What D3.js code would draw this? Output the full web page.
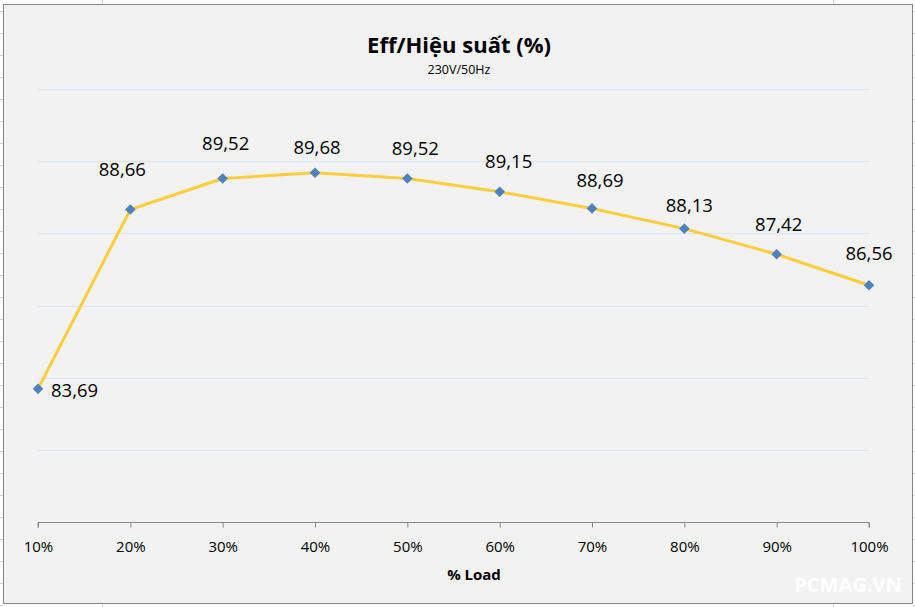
<!DOCTYPE html>
<html><head><meta charset="utf-8">
<script src="https://cdn.jsdelivr.net/npm/d3@7"></script>
<style>body{margin:0;background:#fff}svg{display:block}</style>
</head><body>
<svg id="c" width="915" height="607"></svg>
<script>
const categories = ["10%","20%","30%","40%","50%","60%","70%","80%","90%","100%"];
const values = [83.69,88.66,89.52,89.68,89.52,89.15,88.69,88.13,87.42,86.56];
const yTicks = [80,82,84,86,88,90,92];
const title = "Eff/Hiệu suất (%)";
const subtitle = "230V/50Hz";
const xTitle = "% Load";

// data label nudges (layout, in px relative to each point)
const labelDx = [13,-8,3,2,8,9,8,5,2,0];
const labelDy = [8,-34,-28,-19,-23,-24,-21,-17,-23,-25];

const svg = d3.select("#c");
const font = "'Open Sans', 'Noto Sans', sans-serif";

// spreadsheet background marks
const sheet = svg.append("g").attr("stroke","#d4d4d4").attr("stroke-width",1);
for (let y=11; y<607; y+=22) {
  sheet.append("line").attr("x1",0).attr("x2",3).attr("y1",y+0.5).attr("y2",y+0.5);
  sheet.append("line").attr("x1",913).attr("x2",915).attr("y1",y+0.5).attr("y2",y+0.5);
}
[102.5,833.5].forEach(x=>{
  sheet.append("line").attr("x1",x).attr("x2",x).attr("y1",0).attr("y2",4);
  sheet.append("line").attr("x1",x).attr("x2",x).attr("y1",604).attr("y2",607);
});

svg.append("rect").attr("x",3.5).attr("y",4.5).attr("width",909).attr("height",599)
  .attr("fill","#f2f2f2").attr("stroke","#868686").attr("stroke-width",1);

const x = d3.scalePoint().domain(categories).range([38,869]);
const y = d3.scaleLinear().domain([80,92]).range([522,89]);

// gridlines
svg.append("g").selectAll("line").data(yTicks.filter(t=>t>80)).join("line")
  .attr("x1",38).attr("x2",870)
  .attr("y1",d=>Math.round(y(d))+0.5).attr("y2",d=>Math.round(y(d))+0.5)
  .attr("stroke","#dde3ea").attr("stroke-width",1);

// x axis
const xa = svg.append("g").attr("transform",`translate(0,${Math.round(y(80))+0.5})`)
  .call(d3.axisBottom(x).tickSize(5).tickPadding(14));
xa.select(".domain").attr("stroke","#868686").attr("d",`M38,5V0H869V5`);
xa.selectAll(".tick line").attr("stroke","#868686");
xa.selectAll(".tick text").attr("font-family",font).attr("font-size",15).attr("fill","#000");

// line
svg.append("path").datum(values)
  .attr("d", d3.line().x((d,i)=>x(categories[i])).y(d=>y(d)))
  .attr("fill","none").attr("stroke","#fccd3c").attr("stroke-width",3).attr("stroke-linejoin","round");

// markers
svg.append("g").selectAll("path").data(values).join("path")
  .attr("d", d3.symbol().type(d3.symbolDiamond2).size(72))
  .attr("transform",(d,i)=>`translate(${x(categories[i])},${y(d)})`)
  .attr("fill","#4f81bd");

// labels
const fmt = v => v.toFixed(2).replace(".",",");
svg.append("g").selectAll("text").data(values).join("text")
  .attr("x",(d,i)=> x(categories[i]) + labelDx[i])
  .attr("y",(d,i)=> y(d) + labelDy[i])
  .attr("text-anchor",(d,i)=> i===0 ? "start":"middle")
  .attr("font-family",font).attr("font-size",18.5).attr("fill","#000")
  .text(fmt);

svg.append("text").attr("x",459).attr("y",53).attr("text-anchor","middle")
  .attr("font-family",font).attr("font-size",22).attr("font-weight","bold").text(title);
svg.append("text").attr("x",459).attr("y",74).attr("text-anchor","middle")
  .attr("font-family",font).attr("font-size",12.5).text(subtitle);
svg.append("text").attr("x",474).attr("y",580).attr("text-anchor","middle")
  .attr("font-family",font).attr("font-size",15).attr("font-weight","bold").text(xTitle);
svg.append("text").attr("x",848).attr("y",592).attr("text-anchor","middle")
  .attr("font-family",font).attr("font-size",20).attr("font-weight","bold").attr("fill","#ffffff").text("PCMAG.VN");
</script>
</body></html>
